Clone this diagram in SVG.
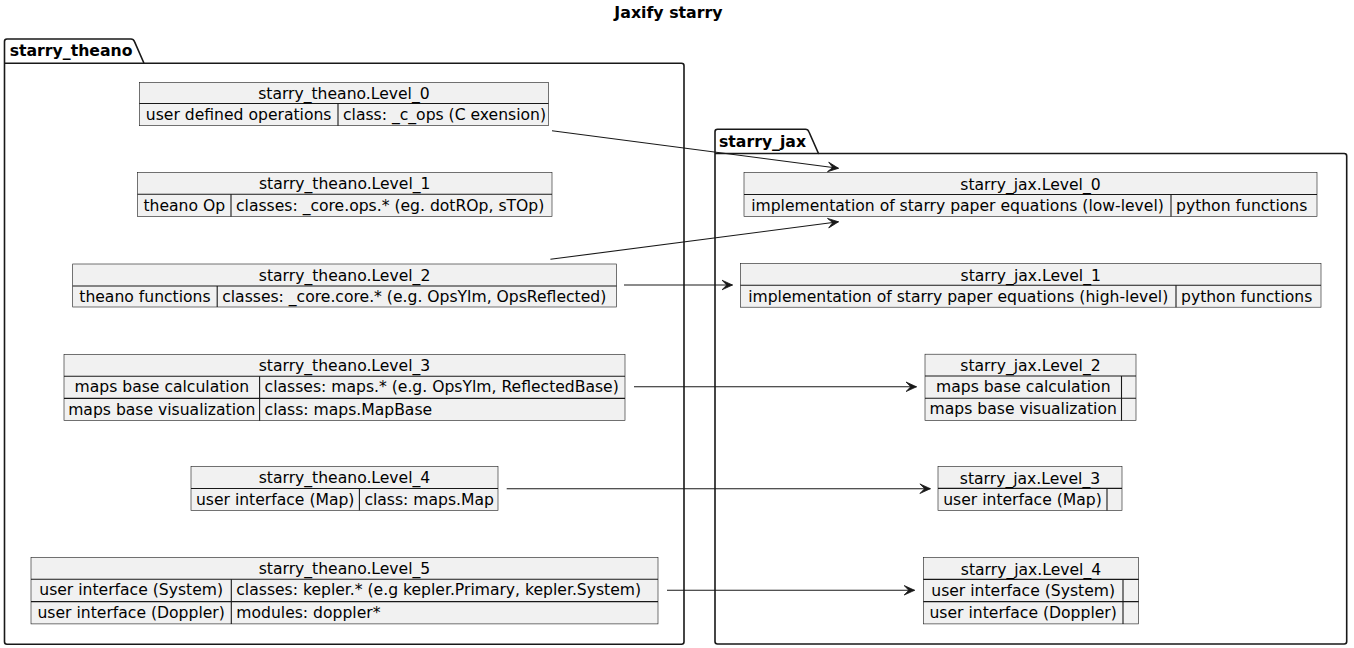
<svg xmlns="http://www.w3.org/2000/svg" width="1354" height="648" viewBox="0 0 1354 648">
<style>
  text { font-family: "DejaVu Sans", "Liberation Sans", sans-serif; fill: #000000; }
  .title { font-size: 15.8px; font-weight: bold; text-anchor: middle; }
  .pkg-label { font-size: 15.7px; font-weight: bold; }
  .pkg { fill: #ffffff; stroke: #181818; stroke-width: 1.6; }
  .box { fill: #F1F1F1; stroke: #181818; stroke-width: 0.6; }
  .sep { stroke: #181818; stroke-width: 1.1; fill: none; }
  .hd { font-size: 15.6px; text-anchor: middle; }
  .k { font-size: 15.6px; text-anchor: middle; }
  .v { font-size: 15.6px; text-anchor: start; }
  .edge { stroke: #181818; stroke-width: 1.1; fill: none; marker-end: url(#arrow); }
</style>
<defs>
  <marker id="arrow" markerUnits="userSpaceOnUse" viewBox="-11 -6 12 12" refX="0" refY="0" markerWidth="12" markerHeight="12" orient="auto">
    <path d="M0,0 L-10.5,-4.8 L-5.8,0 L-10.5,4.8 Z" fill="#181818" stroke="#181818" stroke-width="0.8" stroke-linejoin="miter"/>
  </marker>
</defs>
<rect x="0" y="0" width="1354" height="648" fill="#ffffff"/>
<text class="title" x="668.5" y="18">Jaxify starry</text>

<g id="pkg-starry_theano">
  <path class="pkg" d="M4.5,63.3 L4.5,41.5 Q4.5,39 7,39 L131,39 Q133.5,39 134.4,41.4 L144,63.3 L681.5,63.3 Q684,63.3 684,65.8 L684,641.8 Q684,644.3 681.5,644.3 L7,644.3 Q4.5,644.3 4.5,641.8 Z"/>
  <line class="sep" x1="4.5" y1="63.3" x2="144" y2="63.3" style="stroke-width:1.6"/>
  <text class="pkg-label" x="9.7" y="56">starry_theano</text>
</g>

<g id="pkg-starry_jax">
  <path class="pkg" d="M715,153.5 L715,131.8 Q715,129.3 717.5,129.3 L805.5,129.3 Q808,129.3 808.9,131.7 L818.5,153.5 L1344.2,153.5 Q1346.7,153.5 1346.7,156 L1346.7,641.5 Q1346.7,644 1344.2,644 L717.5,644 Q715,644 715,641.5 Z"/>
  <line class="sep" x1="715" y1="153.5" x2="818.5" y2="153.5" style="stroke-width:1.6"/>
  <text class="pkg-label" x="719" y="146.7">starry_jax</text>
</g>

<g id="starry_theano.Level_0">
  <rect class="box" x="139.3" y="82.3" width="409.2" height="43.4"/>
  <line class="sep" x1="139.3" y1="103.5" x2="548.5" y2="103.5"/>
  <line class="sep" x1="338" y1="103.5" x2="338" y2="125.7"/>
  <text class="hd" x="343.9" y="99.3">starry_theano.Level_0</text>
  <text class="k" x="238.65" y="119.8">user defined operations</text>
  <text class="v" x="343" y="119.8">class: _c_ops (C exension)</text>
</g>

<g id="starry_theano.Level_1">
  <rect class="box" x="137.5" y="172.3" width="414.5" height="44.2"/>
  <line class="sep" x1="137.5" y1="194.3" x2="552" y2="194.3"/>
  <line class="sep" x1="231" y1="194.3" x2="231" y2="216.5"/>
  <text class="hd" x="344.75" y="189.3">starry_theano.Level_1</text>
  <text class="k" x="184.25" y="210.6">theano Op</text>
  <text class="v" x="236" y="210.6">classes: _core.ops.* (eg. dotROp, sTOp)</text>
</g>

<g id="starry_theano.Level_2">
  <rect class="box" x="72.7" y="264" width="543.8" height="43"/>
  <line class="sep" x1="72.7" y1="286" x2="616.5" y2="286"/>
  <line class="sep" x1="217.2" y1="286" x2="217.2" y2="307"/>
  <text class="hd" x="344.6" y="281.2">starry_theano.Level_2</text>
  <text class="k" x="144.95" y="301.8">theano functions</text>
  <text class="v" x="222.2" y="301.8">classes: _core.core.* (e.g. OpsYlm, OpsReflected)</text>
</g>

<g id="starry_theano.Level_3">
  <rect class="box" x="64" y="354.3" width="561" height="66.4"/>
  <line class="sep" x1="64" y1="376.2" x2="625" y2="376.2"/>
  <line class="sep" x1="64" y1="398.4" x2="625" y2="398.4"/>
  <line class="sep" x1="259.6" y1="376.2" x2="259.6" y2="420.7"/>
  <text class="hd" x="344.5" y="371.4">starry_theano.Level_3</text>
  <text class="k" x="161.8" y="392.3">maps base calculation</text>
  <text class="v" x="264.6" y="392.3">classes: maps.* (e.g. OpsYlm, ReflectedBase)</text>
  <text class="k" x="161.8" y="414.5">maps base visualization</text>
  <text class="v" x="264.6" y="414.5">class: maps.MapBase</text>
</g>

<g id="starry_theano.Level_4">
  <rect class="box" x="191" y="466.3" width="307" height="44"/>
  <line class="sep" x1="191" y1="488.5" x2="498" y2="488.5"/>
  <line class="sep" x1="359.4" y1="488.5" x2="359.4" y2="510.3"/>
  <text class="hd" x="344.5" y="483.4">starry_theano.Level_4</text>
  <text class="k" x="275.2" y="504.5">user interface (Map)</text>
  <text class="v" x="364.4" y="504.5">class: maps.Map</text>
</g>

<g id="starry_theano.Level_5">
  <rect class="box" x="31" y="557.3" width="627" height="66.6"/>
  <line class="sep" x1="31" y1="579.2" x2="658" y2="579.2"/>
  <line class="sep" x1="31" y1="601.6" x2="658" y2="601.6"/>
  <line class="sep" x1="231.3" y1="579.2" x2="231.3" y2="623.9"/>
  <text class="hd" x="344.5" y="574.4">starry_theano.Level_5</text>
  <text class="k" x="131.15" y="595.4">user interface (System)</text>
  <text class="v" x="236.3" y="595.4">classes: kepler.* (e.g kepler.Primary, kepler.System)</text>
  <text class="k" x="131.15" y="617.7">user interface (Doppler)</text>
  <text class="v" x="236.3" y="617.7">modules: doppler*</text>
</g>

<g id="starry_jax.Level_0">
  <rect class="box" x="744" y="172.5" width="573" height="44"/>
  <line class="sep" x1="744" y1="194.5" x2="1317" y2="194.5"/>
  <line class="sep" x1="1171" y1="194.5" x2="1171" y2="216.5"/>
  <text class="hd" x="1030.5" y="189.5">starry_jax.Level_0</text>
  <text class="k" x="957.5" y="210.7">implementation of starry paper equations (low-level)</text>
  <text class="v" x="1176" y="210.7">python functions</text>
</g>

<g id="starry_jax.Level_1">
  <rect class="box" x="740.4" y="263.5" width="580.6" height="43.7"/>
  <line class="sep" x1="740.4" y1="285.3" x2="1321" y2="285.3"/>
  <line class="sep" x1="1176" y1="285.3" x2="1176" y2="307.2"/>
  <text class="hd" x="1030.7" y="280.5">starry_jax.Level_1</text>
  <text class="k" x="958.2" y="301.5">implementation of starry paper equations (high-level)</text>
  <text class="v" x="1181" y="301.5">python functions</text>
</g>

<g id="starry_jax.Level_2">
  <rect class="box" x="925" y="354.2" width="211" height="66.4"/>
  <line class="sep" x1="925" y1="376" x2="1136" y2="376"/>
  <line class="sep" x1="925" y1="398.2" x2="1136" y2="398.2"/>
  <line class="sep" x1="1121.5" y1="376" x2="1121.5" y2="420.6"/>
  <text class="hd" x="1030.5" y="371.3">starry_jax.Level_2</text>
  <text class="k" x="1023.25" y="392.2">maps base calculation</text>
  <text class="k" x="1023.25" y="414.4">maps base visualization</text>
</g>

<g id="starry_jax.Level_3">
  <rect class="box" x="938" y="466.5" width="184" height="44"/>
  <line class="sep" x1="938" y1="488.4" x2="1122" y2="488.4"/>
  <line class="sep" x1="1107" y1="488.4" x2="1107" y2="510.5"/>
  <text class="hd" x="1030" y="483.5">starry_jax.Level_3</text>
  <text class="k" x="1022.5" y="504.5">user interface (Map)</text>
</g>

<g id="starry_jax.Level_4">
  <rect class="box" x="923.3" y="557.5" width="215.4" height="66.4"/>
  <line class="sep" x1="923.3" y1="579.4" x2="1138.7" y2="579.4"/>
  <line class="sep" x1="923.3" y1="601.6" x2="1138.7" y2="601.6"/>
  <line class="sep" x1="1123" y1="579.4" x2="1123" y2="623.9"/>
  <text class="hd" x="1031" y="574.5">starry_jax.Level_4</text>
  <text class="k" x="1023.15" y="595.6">user interface (System)</text>
  <text class="k" x="1023.15" y="617.8">user interface (Doppler)</text>
</g>

<g id="connectors">
  <path class="edge" d="M552,130.7 L838.5,168.3"/>
  <path class="edge" d="M550.4,259.3 L838.5,221.8"/>
  <path class="edge" d="M624,285 L732.5,285"/>
  <path class="edge" d="M634,386.8 L916.5,386.8"/>
  <path class="edge" d="M506.7,488.7 L930.4,488.7"/>
  <path class="edge" d="M667,590.3 L914.6,590.3"/>
</g>
</svg>
